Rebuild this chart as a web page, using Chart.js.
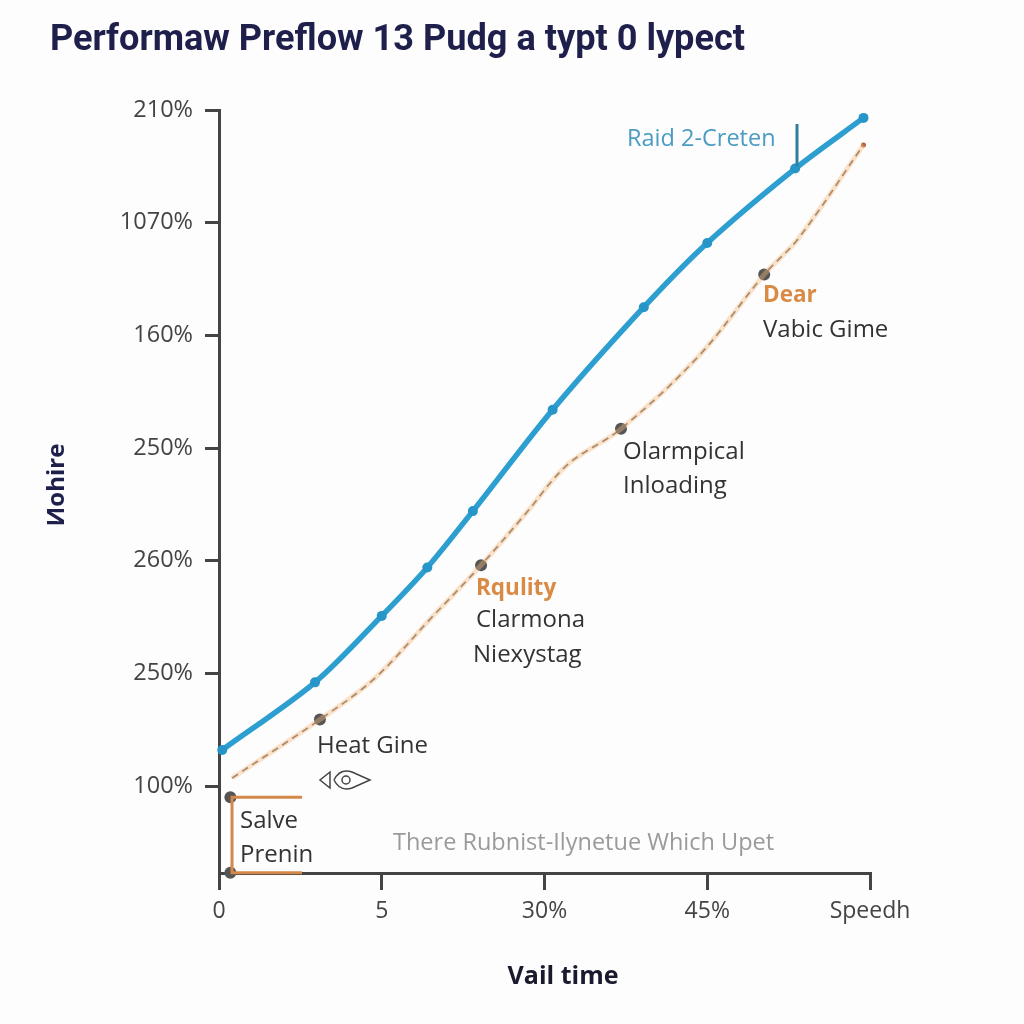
<!DOCTYPE html>
<html><head><meta charset="utf-8">
<script src="https://cdn.jsdelivr.net/npm/chart.js@4"></script>
<style>html,body{margin:0;padding:0;background:#fdfdfd}canvas{display:block}</style></head>
<body><canvas id="c" width="1024" height="1024"></canvas>
<script>
const titleText = 'Performaw Preflow 13 Pudg a typt 0 lypect';
const yTitle = 'Иohire';
const xTitle = 'Vail time';
const yTickLabels = ['100%','250%','260%','250%','160%','1070%','210%'];
const xTickLabels = ['0','5','30%','45%','Speedh'];
const blueX = [0.02,0.59,1.0,1.28,1.56,2.05,2.61,3.0,3.54,3.96];
const blueY = [0.32,0.92,1.51,1.94,2.44,3.34,4.25,4.82,5.48,5.93];
const orangeX = [0.08,0.62,0.96,1.29,1.61,1.88,2.14,2.47,2.95,3.35,3.56,3.96];
const orangeY = [0.07,0.59,0.96,1.47,1.96,2.41,2.85,3.17,3.82,4.54,4.86,5.69];
const markerIdx = [1,4,7,9];
const bracketX = [0.51,0.08,0.08,0.51];
const bracketY = [-0.10,-0.10,-0.77,-0.77];
const bracketDotX = [0.07,0.07];
const bracketDotY = [-0.10,-0.77];

const pts = (xs, ys) => xs.map((x,i)=>({x, y: ys[i]}));
const orangeRadius = orangeX.map((_,i)=> markerIdx.includes(i) ? 6 : (i===orangeX.length-1 ? 2.5 : 0));
const orangeColors = orangeX.map((_,i)=> i===orangeX.length-1 ? '#b0603a' : '#555');

const bgPlugin = {
  id:'bg',
  beforeDraw(chart){
    const c=chart.ctx; c.save(); c.fillStyle='#fdfdfd'; c.fillRect(0,0,chart.width,chart.height); c.restore();
  }
};

function txt(c, s, x, y, font, color, align){
  c.font = font; c.fillStyle = color; c.textAlign = align||'left'; c.textBaseline='middle';
  c.fillText(s, x, y);
}

const textPlugin = {
  id:'texts',
  afterDraw(chart){
    const c = chart.ctx;
    c.save();
    c.font = 'bold 36px "Liberation Sans Narrow", "Roboto", sans-serif';
    const w = c.measureText(titleText).width;
    c.save();
    c.translate(50, 41);
    c.scale(695 / w, 1);
    c.fillStyle = '#1e1f4b'; c.textAlign='left'; c.textBaseline='middle';
    c.fillText(titleText, 0, 0);
    c.restore();
    c.save();
    c.translate(57, 485); c.rotate(-Math.PI/2);
    txt(c, yTitle, 0, 0, 'bold 24px "Open Sans", sans-serif', '#1e1f4b', 'center');
    c.restore();
    txt(c, xTitle, 563, 977, 'bold 25px "Open Sans", sans-serif', '#1a1a2e', 'center');
    const f = '24px "Open Sans", sans-serif';
    const fb = 'bold 22.5px "Open Sans", sans-serif';
    txt(c, 'Raid 2-Creten', 627, 139, '23.5px "Open Sans", sans-serif', '#4a9cc2');
    c.strokeStyle = '#2f7f9a'; c.lineWidth = 3;
    c.beginPath(); c.moveTo(797,124); c.lineTo(797,166); c.stroke();
    txt(c, 'Dear', 763, 296, fb, '#d98a45');
    txt(c, 'Vabic Gime', 763, 330, f, '#333');
    txt(c, 'Olarmpical', 623, 452, f, '#333');
    txt(c, 'Inloading', 623, 486, f, '#333');
    txt(c, 'Rqulity', 476, 589, fb, '#d98a45');
    txt(c, 'Clarmona', 476, 620, f, '#333');
    txt(c, 'Niexystag', 473, 655, f, '#333');
    txt(c, 'Heat Gine', 317, 746, f, '#333');
    c.strokeStyle='#444'; c.lineWidth=1.5;
    c.beginPath(); c.moveTo(330,772); c.lineTo(320,780); c.lineTo(330,788); c.closePath(); c.stroke();
    c.beginPath(); c.moveTo(334,780); c.quadraticCurveTo(340,768,352,772); c.lineTo(370,780); c.lineTo(352,788); c.quadraticCurveTo(340,792,334,780); c.stroke();
    c.beginPath(); c.arc(346,780,4,0,Math.PI*2); c.stroke();
    txt(c, 'Salve', 240, 821, f, '#333');
    txt(c, 'Prenin', 240, 855, f, '#333');
    txt(c, 'There Rubnist-Ilynetue Which Upet', 393, 843, '23.5px "Open Sans", sans-serif', '#9a9a9a');
    c.restore();
  }
};

new Chart(document.getElementById('c'), {
  type:'scatter',
  data:{ datasets:[
    { data: pts(bracketX, bracketY), showLine:true, borderColor:'#d4894a', borderWidth:3, pointRadius:0, tension:0, clip:false },
    { data: pts(bracketDotX, bracketDotY), showLine:false, pointRadius:6, pointBackgroundColor:'#555', pointBorderWidth:0, clip:false },
    { data: pts(orangeX, orangeY), showLine:true, borderColor:'rgba(245,185,125,0.4)', borderWidth:5, pointRadius:0, tension:0.35, clip:false },
    { data: pts(orangeX, orangeY), showLine:true, borderColor:'#7a6c60', borderWidth:1.7, borderDash:[7,5], tension:0.35,
      pointRadius: orangeRadius, pointBackgroundColor: orangeColors, pointBorderWidth:0, clip:false },
    { data: pts(blueX, blueY), showLine:true, borderColor:'#2c9fd0', borderWidth:5.5, tension:0.3,
      pointRadius:5, pointBackgroundColor:'#2795c8', pointBorderColor:'#2795c8', pointBorderWidth:0, clip:false }
  ]},
  options:{
    responsive:false, animation:false, devicePixelRatio:1,
    layout:{ padding:{ top:110, right:154, left:0, bottom:0 } },
    plugins:{ legend:{display:false}, tooltip:{enabled:false}, title:{display:false} },
    scales:{
      x:{ type:'linear', min:0, max:4,
        afterBuildTicks(s){ s.ticks = xTickLabels.map((_,i)=>({value:i})); },
        afterFit(s){ s.height = 151; },
        ticks:{ callback:(v)=>xTickLabels[v], color:'#444', font:{size:23, family:'"Open Sans", sans-serif'}, padding:8, maxRotation:0, autoSkip:false },
        grid:{ display:true, drawOnChartArea:false, drawTicks:true, tickLength:17, color:'#444', lineWidth:3 },
        border:{ display:true, color:'#444', width:3 }
      },
      y:{ type:'linear', min:-0.772, max:6,
        afterBuildTicks(s){ s.ticks = yTickLabels.map((_,i)=>({value:i})); },
        afterFit(s){ s.width = 219; },
        ticks:{ callback:(v)=>yTickLabels[v], color:'#444', font:{size:23.5, family:'"Open Sans", sans-serif'}, padding:12, autoSkip:false },
        grid:{ display:true, drawOnChartArea:false, drawTicks:true, tickLength:14, color:'#444', lineWidth:3 },
        border:{ display:true, color:'#444', width:3 }
      }
    }
  },
  plugins:[bgPlugin, textPlugin]
});
</script>
</body></html>
